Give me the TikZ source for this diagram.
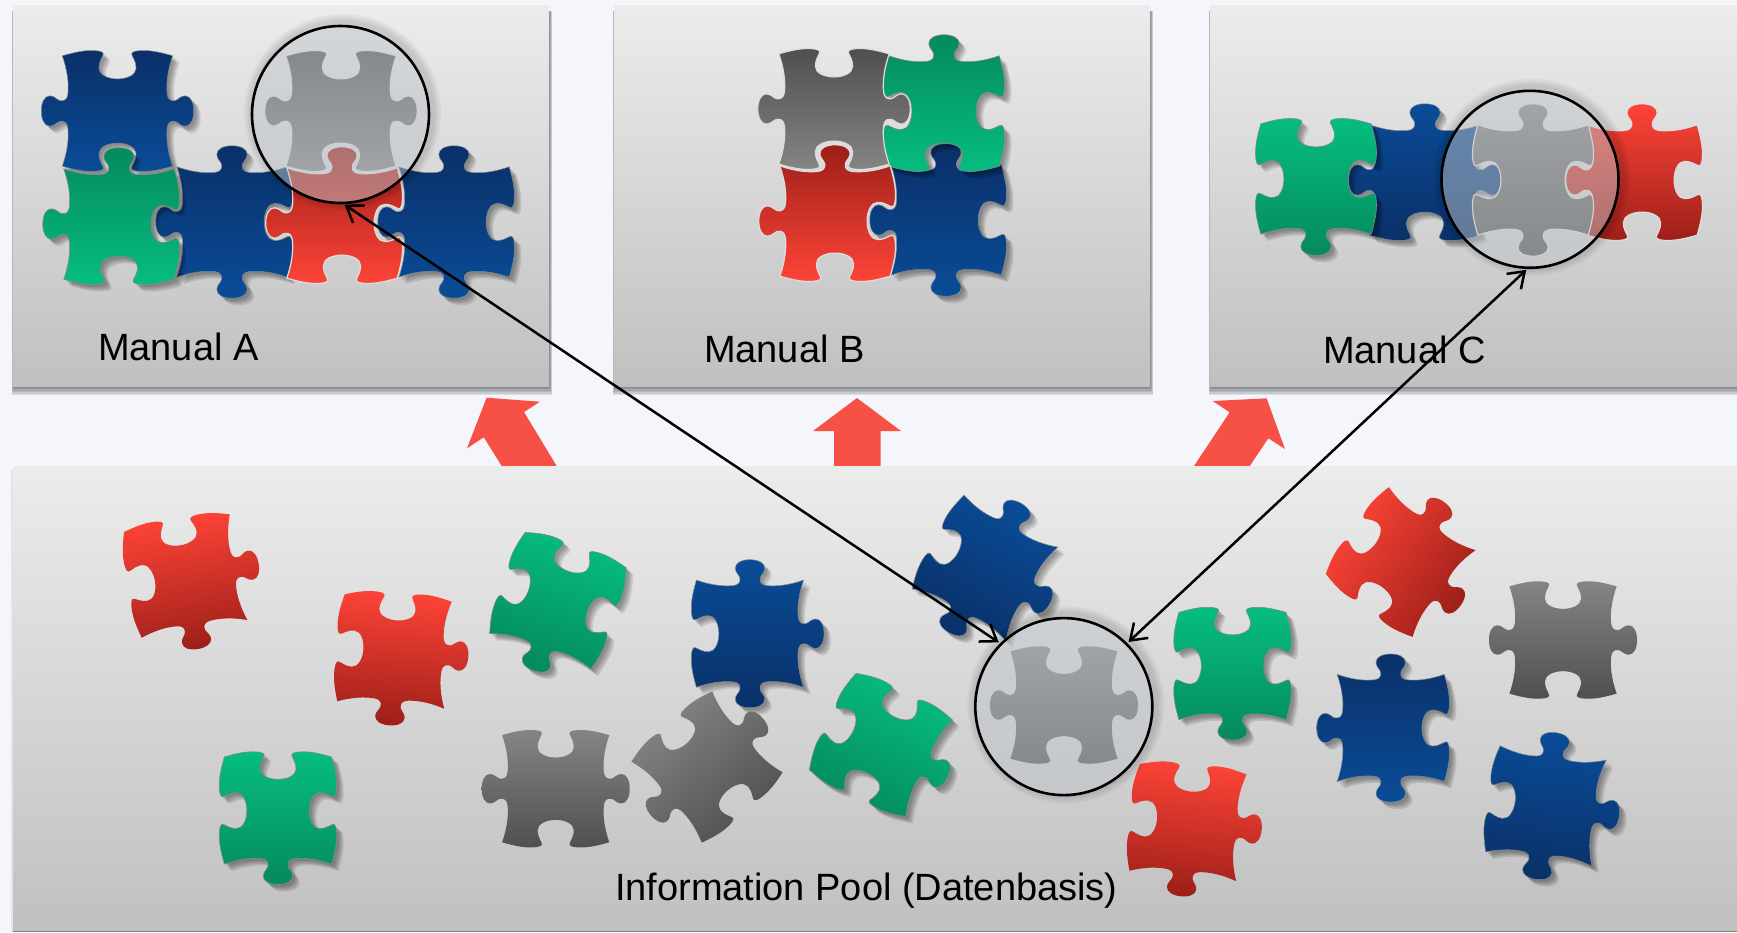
\documentclass[tikz,border=0pt]{standalone}
\usepackage{fontspec}
\setmainfont{Liberation Sans}
\usetikzlibrary{arrows.meta}
\definecolor{pagebg}{HTML}{F4F6FB}
\definecolor{panT}{HTML}{ECECEC}
\definecolor{panB}{HTML}{C0C0C0}
\definecolor{redL}{HTML}{FF4438}
\definecolor{redD}{HTML}{9C1F18}
\definecolor{grnL}{HTML}{06BD80}
\definecolor{grnD}{HTML}{058A5C}
\definecolor{bluL}{HTML}{0A4C98}
\definecolor{bluD}{HTML}{0A3068}
\definecolor{gryL}{HTML}{858585}
\definecolor{gryD}{HTML}{4F4F4F}
\definecolor{arrowred}{HTML}{F75146}
\definecolor{lensC}{HTML}{BEC3C8}
\definecolor{thinE}{HTML}{7C8A90}
\definecolor{lightE}{HTML}{DDDDDD}
\tikzset{
  panelbox/.style={anchor=north west,inner sep=0pt,outer sep=0pt,top color=panT,bottom color=panB,draw=none},
  lens/.style={circle,minimum size=177pt,inner sep=0pt,outer sep=0pt,draw=black,line width=2.6pt,fill=lensC,fill opacity=.5},
  lbl/.style={anchor=base west,inner sep=0pt,outer sep=0pt,font=\fontsize{38}{44}\selectfont,text=black},
  link/.style={{Straight Barb[length=15pt,width=21pt,line width=2.5pt]}-{Straight Barb[length=15pt,width=21pt,line width=2.5pt]},line width=2.5pt,black,shorten <=3pt,shorten >=3pt},
  bigarrow/.style={fill=arrowred,draw=none},
  red up/.style={top color=redL,bottom color=redD},
  red dn/.style={top color=redD,bottom color=redL,draw=lightE,line width=1.2pt},
  red dnb/.style={top color=redL,bottom color=redD,draw=lightE,line width=1.2pt},
  grn up/.style={top color=grnL,bottom color=grnD,draw=thinE,line width=.6pt},
  grn dn/.style={top color=grnD,bottom color=grnL,draw=thinE,line width=.6pt},
  blu up/.style={top color=bluL,bottom color=bluD,draw=thinE,line width=.5pt},
  blu dn/.style={top color=bluD,bottom color=bluL,draw=thinE,line width=.5pt},
  gry up/.style={top color=gryL,bottom color=gryD},
  gry dn/.style={top color=gryD,bottom color=gryL,draw=lightE,line width=1.2pt},
  gry upb/.style={top color=gryL,bottom color=gryD,draw=lightE,line width=1.2pt},
}
\def\jigk{.34}
% an edge running left to right along the top of the piece; T = tab, S = slot
\def\jigET#1{{[rotate=#1,yshift=160]
  .. controls (-120,-14) and (-80,-20) .. (-48,-16)
  .. controls (-34,-14) and (-28,-6) .. (-30,6)
  .. controls (-32,16) and (-44,22) .. (-44,36)
  .. controls (-44,52) and (-24,61) .. (0,61)
  .. controls (24,61) and (44,52) .. (44,36)
  .. controls (44,22) and (32,16) .. (30,6)
  .. controls (28,-6) and (34,-14) .. (48,-16)
  .. controls (80,-20) and (120,-14) .. (160,0)}}
\def\jigES#1{{[rotate=#1,yshift=160]
  .. controls (-125,10) and (-95,17) .. (-65,15)
  .. controls (-48,14) and (-38,10) .. (-42,2)
  .. controls (-46,-8) and (-54,-18) .. (-54,-36)
  .. controls (-54,-55) and (-28,-67) .. (0,-67)
  .. controls (28,-67) and (54,-55) .. (54,-36)
  .. controls (54,-18) and (46,-8) .. (42,2)
  .. controls (38,10) and (48,14) .. (65,15)
  .. controls (95,17) and (125,10) .. (160,0)}}
\newcommand\jigoutline{(-160,160) \jigA{0} \jigB{-90} \jigC{-180} \jigD{-270} -- cycle}
\newcommand\jigset[4]{%
  \expandafter\let\expandafter\jigA\csname jigE#1\endcsname
  \expandafter\let\expandafter\jigB\csname jigE#2\endcsname
  \expandafter\let\expandafter\jigC\csname jigE#3\endcsname
  \expandafter\let\expandafter\jigD\csname jigE#4\endcsname}
% #1 x, #2 y, #3 rotation, #4 style, #5..#8 top right bottom left
\newcommand\jig[8]{%
  \jigset{#5}{#6}{#7}{#8}%
  \begin{scope}[shift={(#1,#2)},rotate=#3,scale=\jigk,x=1pt,y=1pt]
    \path[#4,shading angle=#3] \jigoutline;
  \end{scope}}
% the same, with a soft shadow falling to the lower right
\newcommand\jigs[8]{%
  \jigset{#5}{#6}{#7}{#8}%
  \foreach \d in {7,5.5,4,2.5}{%
    \begin{scope}[shift={(#1+\d,#2+\d)},rotate=#3,scale=\jigk,x=1pt,y=1pt]
      \fill[black,opacity=.1] \jigoutline;
    \end{scope}}%
  \jig{#1}{#2}{#3}{#4}{#5}{#6}{#7}{#8}}
\newcommand\panelshadow[4]{%
  \foreach \d/\s in {9/3,7.5/2.5,6/2,4.5/1.5,3/1,1.5/.5}{%
    \fill[black,opacity=.09] ({#1-\s*.3},{#2+6}) rectangle ({#3+\s},{#4+\d});}}
\newcommand\lensshadow[1]{%
  \foreach \d in {10,8,6,4}{%
    \fill[black,opacity=.035,even odd rule]
      ([xshift=2pt,yshift=2pt]#1) circle[radius=88.5pt+\d pt] (#1) circle[radius=88.5pt];}}
\begin{document}
\begin{tikzpicture}[x=1pt,y=-1pt]
\path[use as bounding box,fill=pagebg] (0,0) rectangle (1737,932);

% red arrows
\fill[bigarrow] (486.6,397.7) -- (540,401.7) -- (524,412) -- (556.7,466) -- (501.7,466) -- (483.8,437.3) -- (467,448.3) -- cycle;
\fill[bigarrow] (857,398) -- (901,431) -- (880.5,431) -- (880.5,466) -- (834,466) -- (834,431) -- (813,431) -- cycle;
\fill[bigarrow] (1266.6,398.3) -- (1212.7,401) -- (1229.6,412.3) -- (1194,466) -- (1249.8,466) -- (1268.3,438.3) -- (1285,449) -- cycle;

% panels
\panelshadow{13}{5}{549}{386}
\panelshadow{614}{5}{1150}{386}
\panelshadow{1210}{5}{1740}{386}
\node[panelbox,minimum width=536pt,minimum height=381pt] (panelA) at (13,5) {};
\node[panelbox,minimum width=536pt,minimum height=381pt] (panelB) at (614,5) {};
\node[panelbox,minimum width=527pt,minimum height=381pt] (panelC) at (1210,5) {};
\fill[black,opacity=.07] (11,470) rectangle (13,932);
\node[panelbox,minimum width=1724pt,minimum height=465pt] (pool) at (13,466) {};
\fill[gray] (13,931) rectangle (1737,932);

% Manual A
\def\jigk{.345}
\jigs{117.5}{111}{0}{blu dn}{S}{T}{S}{T}
\jigs{232}{222}{0}{blu dn}{T}{S}{T}{T}
\jigs{454}{222}{0}{blu dn}{T}{S}{T}{T}
\jigs{119}{224}{0}{grn dn}{T}{S}{S}{T}
\jig{342}{223}{0}{red dn}{T}{S}{S}{T}
\jig{341}{111}{0}{gry dn}{S}{T}{S}{T}

% Manual B
\jigs{946}{220}{0}{blu dn}{T}{S}{T}{T}
\jigs{944}{111}{0}{grn dn}{T}{S}{S}{S}
\jig{835}{221}{0}{red dn}{T}{S}{S}{T}
\jig{834}{109}{0}{gry dn}{S}{T}{S}{T}

% Manual C
\jigs{1425}{180}{0}{blu up}{T}{T}{S}{T}
\jigs{1316}{179}{0}{grn up}{S}{S}{T}{S}
\jig{1642}{180}{0}{red dnb}{T}{S}{S}{T}
\jig{1533}{180}{0}{gry upb}{T}{S}{T}{S}

% Information pool
\def\jigk{.335}
\jig{185.7}{576}{9.5}{red up}{S}{T}{T}{S}
\jig{394.5}{651.5}{-4}{red up}{S}{T}{T}{S}
\jigs{278}{810.5}{0}{grn up}{S}{S}{T}{S}
\jigs{558}{600.7}{-19.3}{grn up}{S}{S}{T}{S}
\jigs{750}{633.7}{0}{blu up}{T}{T}{T}{S}
\jig{555.7}{788.7}{0}{gry up}{S}{T}{S}{T}
\jig{707}{767}{41}{gry up}{S}{T}{S}{T}
\jigs{881}{745}{-25.8}{grn up}{S}{T}{S}{S}
\jigs{985}{568}{-29}{blu up}{T}{T}{T}{S}
\jig{1064}{705}{0}{gry up}{S}{T}{S}{T}
\jigs{1232.5}{666}{0}{grn up}{S}{S}{T}{S}
\jig{1188}{822.6}{-5.6}{red up}{S}{T}{T}{S}
\jig{1400.7}{562}{54}{red up}{S}{T}{T}{S}
\jig{1563}{640}{0}{gry up}{S}{T}{S}{T}
\jigs{1390.7}{728}{0}{blu dn}{T}{S}{T}{T}
\jigs{1546}{806}{-7.7}{blu up}{T}{T}{T}{S}

% magnifying circles
\coordinate (ca) at (340.5,114.5);
\coordinate (cc) at (1530,179.3);
\coordinate (cp) at (1063.8,706.6);
\lensshadow{ca}
\lensshadow{cc}
\lensshadow{cp}
\node[lens] (lensA) at (ca) {};
\node[lens] (lensC) at (cc) {};
\node[lens] (lensP) at (cp) {};

% labels
\node[lbl] (labelA) at (98,360) {Manual A};
\node[lbl] (labelB) at (704,362) {Manual B};
\node[lbl] (labelC) at (1323,363) {Manual C};
\node[lbl] (labelP) at (615,900) {Information Pool (Datenbasis)};

% connectors
\draw[link] (lensP.135) -- (lensA.-89);
\draw[link] (lensP.45) -- (lensC.-91);
\end{tikzpicture}
\end{document}
